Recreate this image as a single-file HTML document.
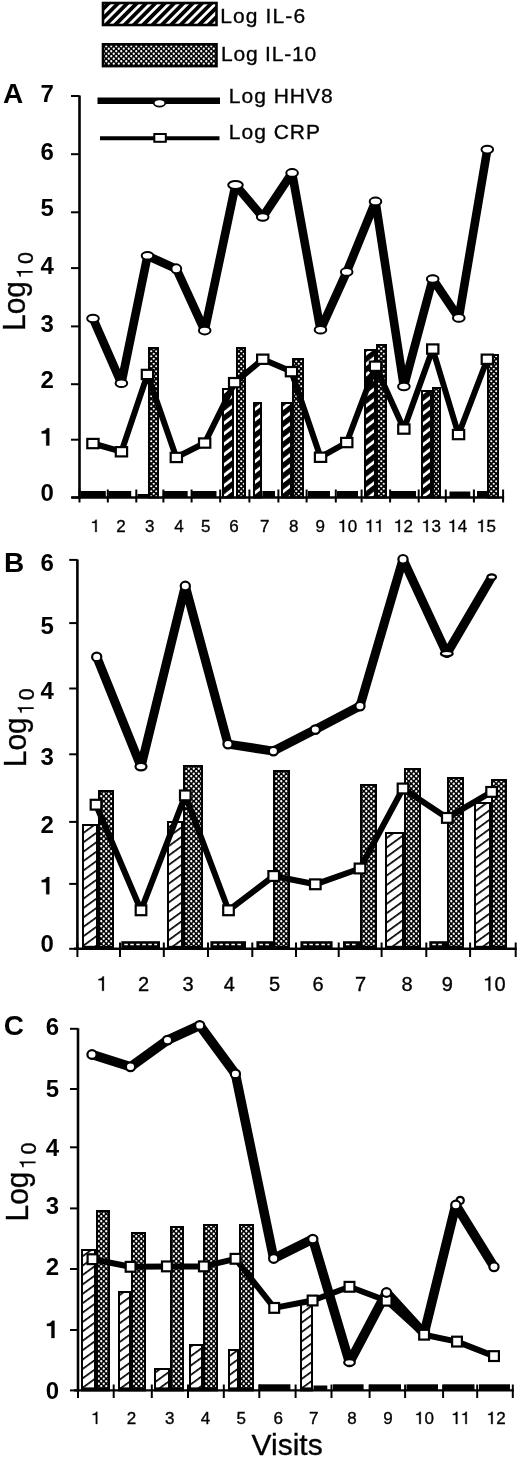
<!DOCTYPE html><html><head><meta charset="utf-8"><style>html,body{margin:0;padding:0;background:#fff;}svg{display:block;} text{stroke:#000;stroke-width:0.35px;} path.o{stroke:#000;stroke-width:0.3px;} text[font-weight="bold"]{stroke-width:0;}</style></head><body>
<svg width="520" height="1458" viewBox="0 0 520 1458">
<defs>
<pattern id="hd" patternUnits="userSpaceOnUse" width="6.6" height="6.6" patternTransform="rotate(-45)"><rect width="6.6" height="6.6" fill="#000"/><rect y="1.9" width="6.6" height="2.8" fill="#fff"/></pattern>
<pattern id="hdb" patternUnits="userSpaceOnUse" width="8.2" height="8.2" patternTransform="rotate(-38)"><rect width="8.2" height="8.2" fill="#000"/><rect y="2.6" width="8.2" height="2.9" fill="#fff"/></pattern>
<pattern id="hl" patternUnits="userSpaceOnUse" width="7.6" height="7.6" patternTransform="rotate(-36)"><rect width="7.6" height="7.6" fill="#fff"/><rect y="0" width="7.6" height="1.7" fill="#000"/></pattern>
<pattern id="st" patternUnits="userSpaceOnUse" width="5" height="5"><rect width="5" height="5" fill="#000"/><circle cx="1.25" cy="1.25" r="1.12" fill="#fff"/><circle cx="3.75" cy="3.75" r="1.12" fill="#fff"/></pattern>
<pattern id="stl" patternUnits="userSpaceOnUse" width="5" height="5"><rect width="5" height="5" fill="#000"/><circle cx="1.25" cy="1.25" r="1.15" fill="#fff"/><circle cx="3.75" cy="3.75" r="1.15" fill="#fff"/></pattern>
</defs>
<rect width="520" height="1458" fill="#fff"/>
<g opacity="0.999">
<rect x="103" y="3" width="113.5" height="22" fill="url(#hd)" stroke="#000" stroke-width="2.6"/>
<rect x="103" y="44.3" width="113.5" height="21.8" fill="url(#stl)" stroke="#000" stroke-width="2.6"/>
<text x="220.3" y="22.7" font-family='"Liberation Sans", sans-serif' font-size="21" letter-spacing="1.1" fill="#000">Log IL-6</text>
<text x="221" y="61.3" font-family='"Liberation Sans", sans-serif' font-size="21" letter-spacing="0.8" fill="#000">Log IL-10</text>
<line x1="97.5" y1="100.8" x2="220" y2="100.8" stroke="#000" stroke-width="6.5"/>
<ellipse cx="159.5" cy="103" rx="5.8" ry="3.6" fill="#fff" stroke="#000" stroke-width="1.8"/>
<line x1="100" y1="138.3" x2="219.5" y2="138.3" stroke="#000" stroke-width="4"/>
<rect x="154.3" y="134" width="11.5" height="7.8" fill="#fff" stroke="#000" stroke-width="2"/>
<text x="228.8" y="103" font-family='"Liberation Sans", sans-serif' font-size="21" letter-spacing="1.0" fill="#000">Log HHV8</text>
<text x="228.8" y="138.9" font-family='"Liberation Sans", sans-serif' font-size="21" letter-spacing="1.0" fill="#000">Log CRP</text>
<rect x="222" y="388" width="12" height="110.5" fill="#000"/>
<rect x="224" y="390" width="8" height="106.5" fill="url(#hdb)"/>
<rect x="253" y="402" width="9" height="96.5" fill="#000"/>
<rect x="255" y="404" width="5" height="92.5" fill="url(#hdb)"/>
<rect x="281" y="402" width="11" height="96.5" fill="#000"/>
<rect x="283" y="404" width="7" height="92.5" fill="url(#hdb)"/>
<rect x="364" y="349" width="12" height="149.5" fill="#000"/>
<rect x="366" y="351" width="8" height="145.5" fill="url(#hdb)"/>
<rect x="421" y="390" width="11" height="108.5" fill="#000"/>
<rect x="423" y="392" width="7" height="104.5" fill="url(#hdb)"/>
<rect x="148" y="347" width="11" height="151.5" fill="#000"/>
<rect x="150" y="349" width="7" height="147.5" fill="url(#st)"/>
<rect x="236" y="347" width="10" height="151.5" fill="#000"/>
<rect x="238" y="349" width="6" height="147.5" fill="url(#st)"/>
<rect x="292" y="358" width="12" height="140.5" fill="#000"/>
<rect x="294" y="360" width="8" height="136.5" fill="url(#st)"/>
<rect x="376" y="344" width="11" height="154.5" fill="#000"/>
<rect x="378" y="346" width="7" height="150.5" fill="url(#st)"/>
<rect x="432" y="387" width="9" height="111.5" fill="#000"/>
<rect x="434" y="389" width="5" height="107.5" fill="url(#st)"/>
<rect x="487" y="354" width="12" height="144.5" fill="#000"/>
<rect x="489" y="356" width="8" height="140.5" fill="url(#st)"/>
<rect x="80.5" y="491" width="25.3" height="6.5" fill="#000"/>
<rect x="108.5" y="491" width="22.7" height="6.5" fill="#000"/>
<rect x="137.5" y="494" width="11" height="3.5" fill="#000"/>
<rect x="162.7" y="491" width="25" height="6.5" fill="#000"/>
<rect x="191.5" y="491" width="25" height="6.5" fill="#000"/>
<rect x="262.3" y="491" width="12.7" height="6.5" fill="#000"/>
<rect x="308" y="491" width="22" height="6.5" fill="#000"/>
<rect x="337" y="491" width="21" height="6.5" fill="#000"/>
<rect x="391" y="491" width="25" height="6.5" fill="#000"/>
<rect x="449.5" y="491.5" width="20.8" height="6" fill="#000"/>
<rect x="477" y="491" width="10" height="6.5" fill="#000"/>
<line x1="79.5" y1="95.5" x2="79.5" y2="498.5" stroke="#000" stroke-width="2.6"/>
<line x1="71.5" y1="497.5" x2="504.1" y2="497.5" stroke="#000" stroke-width="2.4"/>
<line x1="71" y1="497.5" x2="79.5" y2="497.5" stroke="#000" stroke-width="2"/>
<text x="40.5" y="501.3" font-family='"Liberation Sans", sans-serif' font-weight="bold" font-size="24" fill="#000">0</text>
<line x1="71" y1="439.7" x2="79.5" y2="439.7" stroke="#000" stroke-width="2"/>
<path class="o" d="M49.3,445.5 L49.3,428.3 L46.8,428.3 C46.3,430.1 44.5,431.1 41.7,431.2 L41.7,433.4 L46.2,433.4 L46.2,445.5 Z" fill="#000"/>
<line x1="71" y1="384.2" x2="79.5" y2="384.2" stroke="#000" stroke-width="2"/>
<text x="40.5" y="387.8" font-family='"Liberation Sans", sans-serif' font-weight="bold" font-size="24" fill="#000">2</text>
<line x1="71" y1="326.4" x2="79.5" y2="326.4" stroke="#000" stroke-width="2"/>
<text x="40.5" y="332.2" font-family='"Liberation Sans", sans-serif' font-weight="bold" font-size="24" fill="#000">3</text>
<line x1="71" y1="268.1" x2="79.5" y2="268.1" stroke="#000" stroke-width="2"/>
<text x="40.5" y="274" font-family='"Liberation Sans", sans-serif' font-weight="bold" font-size="24" fill="#000">4</text>
<line x1="71" y1="212.3" x2="79.5" y2="212.3" stroke="#000" stroke-width="2"/>
<text x="40.5" y="216.4" font-family='"Liberation Sans", sans-serif' font-weight="bold" font-size="24" fill="#000">5</text>
<line x1="71" y1="154.2" x2="79.5" y2="154.2" stroke="#000" stroke-width="2"/>
<text x="40.5" y="160.2" font-family='"Liberation Sans", sans-serif' font-weight="bold" font-size="24" fill="#000">6</text>
<line x1="71" y1="96" x2="79.5" y2="96" stroke="#000" stroke-width="2"/>
<text x="40.5" y="101.5" font-family='"Liberation Sans", sans-serif' font-weight="bold" font-size="24" fill="#000">7</text>
<line x1="79.5" y1="489.5" x2="79.5" y2="502.5" stroke="#000" stroke-width="2"/>
<line x1="107.8" y1="489.5" x2="107.8" y2="502.5" stroke="#000" stroke-width="2"/>
<line x1="136.3" y1="489.5" x2="136.3" y2="502.5" stroke="#000" stroke-width="2"/>
<line x1="163.4" y1="489.5" x2="163.4" y2="502.5" stroke="#000" stroke-width="2"/>
<line x1="191.6" y1="489.5" x2="191.6" y2="502.5" stroke="#000" stroke-width="2"/>
<line x1="220.2" y1="489.5" x2="220.2" y2="502.5" stroke="#000" stroke-width="2"/>
<line x1="249.4" y1="489.5" x2="249.4" y2="502.5" stroke="#000" stroke-width="2"/>
<line x1="278.4" y1="489.5" x2="278.4" y2="502.5" stroke="#000" stroke-width="2"/>
<line x1="306.6" y1="489.5" x2="306.6" y2="502.5" stroke="#000" stroke-width="2"/>
<line x1="335.8" y1="489.5" x2="335.8" y2="502.5" stroke="#000" stroke-width="2"/>
<line x1="361.6" y1="489.5" x2="361.6" y2="502.5" stroke="#000" stroke-width="2"/>
<line x1="390.1" y1="489.5" x2="390.1" y2="502.5" stroke="#000" stroke-width="2"/>
<line x1="418.7" y1="489.5" x2="418.7" y2="502.5" stroke="#000" stroke-width="2"/>
<line x1="445.8" y1="489.5" x2="445.8" y2="502.5" stroke="#000" stroke-width="2"/>
<line x1="473.9" y1="489.5" x2="473.9" y2="502.5" stroke="#000" stroke-width="2"/>
<line x1="503.1" y1="489.5" x2="503.1" y2="502.5" stroke="#000" stroke-width="2"/>
<path class="o" d="M96.7,531.9 L96.7,519.7 L95.6,519.7 C95.3,520.9 94.3,521.7 92.1,521.8 L92.1,522.9 L95.2,522.9 L95.2,531.9 Z" fill="#000"/>
<text x="116.3" y="531.9" font-family='"Liberation Sans", sans-serif' font-size="17" fill="#000">2</text>
<text x="145" y="531.9" font-family='"Liberation Sans", sans-serif' font-size="17" fill="#000">3</text>
<text x="174.2" y="531.9" font-family='"Liberation Sans", sans-serif' font-size="17" fill="#000">4</text>
<text x="200.9" y="531.9" font-family='"Liberation Sans", sans-serif' font-size="17" fill="#000">5</text>
<text x="229.2" y="531.9" font-family='"Liberation Sans", sans-serif' font-size="17" fill="#000">6</text>
<text x="260.1" y="531.9" font-family='"Liberation Sans", sans-serif' font-size="17" fill="#000">7</text>
<text x="289" y="531.9" font-family='"Liberation Sans", sans-serif' font-size="17" fill="#000">8</text>
<text x="315.5" y="531.9" font-family='"Liberation Sans", sans-serif' font-size="17" fill="#000">9</text>
<path class="o" d="M344.1,531.9 L344.1,519.7 L343,519.7 C342.6,520.9 341.6,521.7 339.5,521.8 L339.5,522.9 L342.5,522.9 L342.5,531.9 Z" fill="#000"/>
<text x="347.7" y="531.9" font-family='"Liberation Sans", sans-serif' font-size="17" fill="#000">0</text>
<path class="o" d="M371.2,531.9 L371.2,519.7 L370.1,519.7 C369.7,520.9 368.7,521.7 366.6,521.8 L366.6,522.9 L369.6,522.9 L369.6,531.9 Z" fill="#000"/>
<path class="o" d="M380.6,531.9 L380.6,519.7 L379.5,519.7 C379.2,520.9 378.2,521.7 376.1,521.8 L376.1,522.9 L379.1,522.9 L379.1,531.9 Z" fill="#000"/>
<path class="o" d="M399.9,531.9 L399.9,519.7 L398.8,519.7 C398.4,520.9 397.4,521.7 395.3,521.8 L395.3,522.9 L398.3,522.9 L398.3,531.9 Z" fill="#000"/>
<text x="403.5" y="531.9" font-family='"Liberation Sans", sans-serif' font-size="17" fill="#000">2</text>
<path class="o" d="M427.8,531.9 L427.8,519.7 L426.7,519.7 C426.3,520.9 425.3,521.7 423.2,521.8 L423.2,522.9 L426.2,522.9 L426.2,531.9 Z" fill="#000"/>
<text x="431.4" y="531.9" font-family='"Liberation Sans", sans-serif' font-size="17" fill="#000">3</text>
<path class="o" d="M454.1,531.9 L454.1,519.7 L453,519.7 C452.6,520.9 451.6,521.7 449.5,521.8 L449.5,522.9 L452.5,522.9 L452.5,531.9 Z" fill="#000"/>
<text x="457.7" y="531.9" font-family='"Liberation Sans", sans-serif' font-size="17" fill="#000">4</text>
<path class="o" d="M482.8,531.9 L482.8,519.7 L481.7,519.7 C481.3,520.9 480.3,521.7 478.2,521.8 L478.2,522.9 L481.2,522.9 L481.2,531.9 Z" fill="#000"/>
<text x="486.4" y="531.9" font-family='"Liberation Sans", sans-serif' font-size="17" fill="#000">5</text>
<text x="2.9" y="102.8" font-family='"Liberation Sans", sans-serif' font-weight="bold" font-size="28" fill="#000">A</text>
<polyline points="93,443.5 121.4,451.7 147.5,374.4 176.3,457.4 204.7,443 234.7,382.6 262.7,359.2 291.4,371.6 320.5,457.2 346.7,442.5 375.5,366.2 403.9,429 432.7,349 458.5,434.5 487.3,359.2" fill="none" stroke="#000" stroke-width="6" stroke-linejoin="round"/>
<polyline points="93,318.5 121.4,383.2 147.5,255.8 176.3,268.8 204.7,330.6 235.5,185 262.7,217 292.1,172.9 320.5,329.7 346.7,271.9 375.5,201.4 403.9,386.5 432.7,279 458.8,317.9 487.3,149.6" fill="none" stroke="#000" stroke-width="8.6" stroke-linejoin="round"/>
<rect x="87.3" y="438.9" width="11.3" height="9.3" fill="#fff" stroke="#000" stroke-width="2.2"/>
<rect x="115.8" y="447.1" width="11.3" height="9.3" fill="#fff" stroke="#000" stroke-width="2.2"/>
<rect x="141.8" y="369.8" width="11.3" height="9.3" fill="#fff" stroke="#000" stroke-width="2.2"/>
<rect x="170.7" y="452.8" width="11.3" height="9.3" fill="#fff" stroke="#000" stroke-width="2.2"/>
<rect x="199" y="438.4" width="11.3" height="9.3" fill="#fff" stroke="#000" stroke-width="2.2"/>
<rect x="229" y="378" width="11.3" height="9.3" fill="#fff" stroke="#000" stroke-width="2.2"/>
<rect x="257.1" y="354.6" width="11.3" height="9.3" fill="#fff" stroke="#000" stroke-width="2.2"/>
<rect x="285.8" y="367" width="11.3" height="9.3" fill="#fff" stroke="#000" stroke-width="2.2"/>
<rect x="314.9" y="452.6" width="11.3" height="9.3" fill="#fff" stroke="#000" stroke-width="2.2"/>
<rect x="341.1" y="437.9" width="11.3" height="9.3" fill="#fff" stroke="#000" stroke-width="2.2"/>
<rect x="369.9" y="361.6" width="11.3" height="9.3" fill="#fff" stroke="#000" stroke-width="2.2"/>
<rect x="398.2" y="424.4" width="11.3" height="9.3" fill="#fff" stroke="#000" stroke-width="2.2"/>
<rect x="427.1" y="344.4" width="11.3" height="9.3" fill="#fff" stroke="#000" stroke-width="2.2"/>
<rect x="452.9" y="429.9" width="11.3" height="9.3" fill="#fff" stroke="#000" stroke-width="2.2"/>
<rect x="481.7" y="354.6" width="11.3" height="9.3" fill="#fff" stroke="#000" stroke-width="2.2"/>
<ellipse cx="93" cy="318.5" rx="5.8" ry="3.8" fill="#fff" stroke="#000" stroke-width="2"/>
<ellipse cx="121.4" cy="383.2" rx="5.8" ry="3.8" fill="#fff" stroke="#000" stroke-width="2"/>
<ellipse cx="147.5" cy="255.8" rx="5.8" ry="3.8" fill="#fff" stroke="#000" stroke-width="2"/>
<ellipse cx="176.3" cy="268.8" rx="4.9" ry="4.5" fill="#fff" stroke="#000" stroke-width="2"/>
<ellipse cx="204.7" cy="330.6" rx="5.8" ry="3.8" fill="#fff" stroke="#000" stroke-width="2"/>
<ellipse cx="235.5" cy="185" rx="7.3" ry="4.1" fill="#fff" stroke="#000" stroke-width="2"/>
<ellipse cx="262.7" cy="217" rx="5.8" ry="3.8" fill="#fff" stroke="#000" stroke-width="2"/>
<ellipse cx="292.1" cy="172.9" rx="5.8" ry="3.8" fill="#fff" stroke="#000" stroke-width="2"/>
<ellipse cx="320.5" cy="329.7" rx="5.8" ry="3.8" fill="#fff" stroke="#000" stroke-width="2"/>
<ellipse cx="346.7" cy="271.9" rx="5.8" ry="3.8" fill="#fff" stroke="#000" stroke-width="2"/>
<ellipse cx="375.5" cy="201.4" rx="5.8" ry="3.8" fill="#fff" stroke="#000" stroke-width="2"/>
<ellipse cx="403.9" cy="386.5" rx="5.8" ry="3.8" fill="#fff" stroke="#000" stroke-width="2"/>
<ellipse cx="432.7" cy="279" rx="5.8" ry="3.8" fill="#fff" stroke="#000" stroke-width="2"/>
<ellipse cx="458.8" cy="317.9" rx="5.8" ry="3.8" fill="#fff" stroke="#000" stroke-width="2"/>
<ellipse cx="487.3" cy="149.6" rx="5.8" ry="3.8" fill="#fff" stroke="#000" stroke-width="2"/>
<rect x="82" y="824" width="16" height="125.8" fill="#000"/>
<rect x="84" y="826" width="12" height="119.8" fill="url(#hl)"/>
<rect x="167" y="821" width="16" height="128.8" fill="#000"/>
<rect x="169" y="823" width="12" height="122.8" fill="url(#hl)"/>
<rect x="385" y="832" width="19" height="117.8" fill="#000"/>
<rect x="387" y="834" width="15" height="111.8" fill="url(#hl)"/>
<rect x="474" y="802" width="17" height="147.8" fill="#000"/>
<rect x="476" y="804" width="13" height="141.8" fill="url(#hl)"/>
<rect x="98" y="790" width="16" height="159.8" fill="#000"/>
<rect x="100" y="792" width="12" height="153.8" fill="url(#stl)"/>
<rect x="183" y="765" width="20" height="184.8" fill="#000"/>
<rect x="185" y="767" width="16" height="178.8" fill="url(#stl)"/>
<rect x="273" y="770" width="17" height="179.8" fill="#000"/>
<rect x="275" y="772" width="13" height="173.8" fill="url(#stl)"/>
<rect x="360" y="784" width="17" height="165.8" fill="#000"/>
<rect x="362" y="786" width="13" height="159.8" fill="url(#stl)"/>
<rect x="404" y="768" width="17" height="181.8" fill="#000"/>
<rect x="406" y="770" width="13" height="175.8" fill="url(#stl)"/>
<rect x="447" y="777" width="17" height="172.8" fill="#000"/>
<rect x="449" y="779" width="13" height="166.8" fill="url(#stl)"/>
<rect x="491" y="779" width="16" height="170.8" fill="#000"/>
<rect x="493" y="781" width="12" height="164.8" fill="url(#stl)"/>
<rect x="121.3" y="941.2" width="38.7" height="7.6" fill="#000"/>
<line x1="124.3" y1="944.5" x2="157" y2="944.5" stroke="#fff" stroke-width="1.4" stroke-dasharray="3.5 2.5"/>
<rect x="210.4" y="941.2" width="35.6" height="7.6" fill="#000"/>
<line x1="213.4" y1="944.5" x2="243" y2="944.5" stroke="#fff" stroke-width="1.4" stroke-dasharray="3.5 2.5"/>
<rect x="256.4" y="941.2" width="17" height="7.6" fill="#000"/>
<line x1="259.4" y1="944.5" x2="270.4" y2="944.5" stroke="#fff" stroke-width="1.4" stroke-dasharray="3.5 2.5"/>
<rect x="300.4" y="941.2" width="32.2" height="7.6" fill="#000"/>
<line x1="303.4" y1="944.5" x2="329.6" y2="944.5" stroke="#fff" stroke-width="1.4" stroke-dasharray="3.5 2.5"/>
<rect x="343" y="941.2" width="17" height="7.6" fill="#000"/>
<line x1="346" y1="944.5" x2="357" y2="944.5" stroke="#fff" stroke-width="1.4" stroke-dasharray="3.5 2.5"/>
<rect x="429.3" y="941.2" width="18" height="7.6" fill="#000"/>
<line x1="432.3" y1="944.5" x2="444.3" y2="944.5" stroke="#fff" stroke-width="1.4" stroke-dasharray="3.5 2.5"/>
<line x1="77.4" y1="559.4" x2="77.4" y2="949.8" stroke="#000" stroke-width="2.6"/>
<line x1="74" y1="948.8" x2="516.7" y2="948.8" stroke="#000" stroke-width="2.4"/>
<line x1="69.2" y1="948.8" x2="77.4" y2="948.8" stroke="#000" stroke-width="2"/>
<text x="40.5" y="952.4" font-family='"Liberation Sans", sans-serif' font-weight="bold" font-size="24" fill="#000">0</text>
<line x1="69.2" y1="883.9" x2="77.4" y2="883.9" stroke="#000" stroke-width="2"/>
<path class="o" d="M49.3,894.3 L49.3,877.1 L46.8,877.1 C46.3,878.9 44.5,879.9 41.7,880 L41.7,882.2 L46.2,882.2 L46.2,894.3 Z" fill="#000"/>
<line x1="69.2" y1="821.9" x2="77.4" y2="821.9" stroke="#000" stroke-width="2"/>
<text x="40.5" y="832.9" font-family='"Liberation Sans", sans-serif' font-weight="bold" font-size="24" fill="#000">2</text>
<line x1="69.2" y1="754.3" x2="77.4" y2="754.3" stroke="#000" stroke-width="2"/>
<text x="40.5" y="764.6" font-family='"Liberation Sans", sans-serif' font-weight="bold" font-size="24" fill="#000">3</text>
<line x1="69.2" y1="688.5" x2="77.4" y2="688.5" stroke="#000" stroke-width="2"/>
<text x="40.5" y="699.2" font-family='"Liberation Sans", sans-serif' font-weight="bold" font-size="24" fill="#000">4</text>
<line x1="69.2" y1="623.1" x2="77.4" y2="623.1" stroke="#000" stroke-width="2"/>
<text x="40.5" y="633.7" font-family='"Liberation Sans", sans-serif' font-weight="bold" font-size="24" fill="#000">5</text>
<line x1="69.2" y1="559.9" x2="77.4" y2="559.9" stroke="#000" stroke-width="2"/>
<text x="40.5" y="570.8" font-family='"Liberation Sans", sans-serif' font-weight="bold" font-size="24" fill="#000">6</text>
<line x1="77.4" y1="942.5" x2="77.4" y2="957" stroke="#000" stroke-width="2"/>
<line x1="120" y1="942.5" x2="120" y2="957" stroke="#000" stroke-width="2"/>
<line x1="163.8" y1="942.5" x2="163.8" y2="957" stroke="#000" stroke-width="2"/>
<line x1="208" y1="942.5" x2="208" y2="957" stroke="#000" stroke-width="2"/>
<line x1="252.3" y1="942.5" x2="252.3" y2="957" stroke="#000" stroke-width="2"/>
<line x1="296" y1="942.5" x2="296" y2="957" stroke="#000" stroke-width="2"/>
<line x1="338.7" y1="942.5" x2="338.7" y2="957" stroke="#000" stroke-width="2"/>
<line x1="381.6" y1="942.5" x2="381.6" y2="957" stroke="#000" stroke-width="2"/>
<line x1="426.3" y1="942.5" x2="426.3" y2="957" stroke="#000" stroke-width="2"/>
<line x1="470.1" y1="942.5" x2="470.1" y2="957" stroke="#000" stroke-width="2"/>
<line x1="515.7" y1="942.5" x2="515.7" y2="957" stroke="#000" stroke-width="2"/>
<path class="o" d="M103.9,990.8 L103.9,976.5 L102.6,976.5 C102.2,977.9 101,978.8 98.5,979 L98.5,980.3 L102.1,980.3 L102.1,990.8 Z" fill="#000"/>
<text x="138.1" y="990.8" font-family='"Liberation Sans", sans-serif' font-size="20" fill="#000">2</text>
<text x="182.5" y="990.8" font-family='"Liberation Sans", sans-serif' font-size="20" fill="#000">3</text>
<text x="223.7" y="990.8" font-family='"Liberation Sans", sans-serif' font-size="20" fill="#000">4</text>
<text x="269" y="990.8" font-family='"Liberation Sans", sans-serif' font-size="20" fill="#000">5</text>
<text x="312.6" y="990.8" font-family='"Liberation Sans", sans-serif' font-size="20" fill="#000">6</text>
<text x="355" y="990.8" font-family='"Liberation Sans", sans-serif' font-size="20" fill="#000">7</text>
<text x="401.4" y="990.8" font-family='"Liberation Sans", sans-serif' font-size="20" fill="#000">8</text>
<text x="441.8" y="990.8" font-family='"Liberation Sans", sans-serif' font-size="20" fill="#000">9</text>
<path class="o" d="M490.3,990.8 L490.3,976.5 L489,976.5 C488.6,977.9 487.5,978.8 485,979 L485,980.3 L488.5,980.3 L488.5,990.8 Z" fill="#000"/>
<text x="494.6" y="990.8" font-family='"Liberation Sans", sans-serif' font-size="20" fill="#000">0</text>
<text x="4" y="572" font-family='"Liberation Sans", sans-serif' font-weight="bold" font-size="28" fill="#000">B</text>
<polyline points="96,804.7 141,910.3 185.3,795.4 228.5,910.3 273.7,876 315.3,884.3 360,868.5 403,788.5 447.3,817.9 491.6,791.9" fill="none" stroke="#000" stroke-width="6" stroke-linejoin="round"/>
<polyline points="96.7,656.9 141,766.6 185.3,586 228,744.1 273.4,751.1 315.3,729.6 360,706.1 403,559.3 446.8,653.6 491.7,577" fill="none" stroke="#000" stroke-width="9.0" stroke-linejoin="round"/>
<rect x="90.7" y="799.8" width="10.6" height="9.8" fill="#fff" stroke="#000" stroke-width="2.2"/>
<rect x="135.7" y="905.4" width="10.6" height="9.8" fill="#fff" stroke="#000" stroke-width="2.2"/>
<rect x="180" y="790.5" width="10.6" height="9.8" fill="#fff" stroke="#000" stroke-width="2.2"/>
<rect x="223.2" y="905.4" width="10.6" height="9.8" fill="#fff" stroke="#000" stroke-width="2.2"/>
<rect x="268.4" y="871.1" width="10.6" height="9.8" fill="#fff" stroke="#000" stroke-width="2.2"/>
<rect x="310" y="879.4" width="10.6" height="9.8" fill="#fff" stroke="#000" stroke-width="2.2"/>
<rect x="354.7" y="863.6" width="10.6" height="9.8" fill="#fff" stroke="#000" stroke-width="2.2"/>
<rect x="397.7" y="783.6" width="10.6" height="9.8" fill="#fff" stroke="#000" stroke-width="2.2"/>
<rect x="442" y="813" width="10.6" height="9.8" fill="#fff" stroke="#000" stroke-width="2.2"/>
<rect x="486.3" y="787" width="10.6" height="9.8" fill="#fff" stroke="#000" stroke-width="2.2"/>
<ellipse cx="96.7" cy="656.9" rx="4.6" ry="4.3" fill="#fff" stroke="#000" stroke-width="2.2"/>
<ellipse cx="141" cy="766.6" rx="5.5" ry="3.7" fill="#fff" stroke="#000" stroke-width="2.2"/>
<ellipse cx="185.3" cy="586" rx="4.6" ry="4.3" fill="#fff" stroke="#000" stroke-width="2.2"/>
<ellipse cx="228" cy="744.1" rx="4.6" ry="4.3" fill="#fff" stroke="#000" stroke-width="2.2"/>
<ellipse cx="273.4" cy="751.1" rx="4.6" ry="4.3" fill="#fff" stroke="#000" stroke-width="2.2"/>
<ellipse cx="315.3" cy="729.6" rx="4.6" ry="4.3" fill="#fff" stroke="#000" stroke-width="2.2"/>
<ellipse cx="360" cy="706.1" rx="4.6" ry="4.3" fill="#fff" stroke="#000" stroke-width="2.2"/>
<ellipse cx="403" cy="559.3" rx="4.6" ry="4.3" fill="#fff" stroke="#000" stroke-width="2.2"/>
<ellipse cx="446.8" cy="653.6" rx="5.9" ry="2.8" fill="#fff" stroke="#000" stroke-width="2.2"/>
<ellipse cx="491.7" cy="577" rx="4.3" ry="2.7" fill="#fff" stroke="#000" stroke-width="2.2"/>
<rect x="81" y="1249" width="15" height="142.4" fill="#000"/>
<rect x="83" y="1251" width="11" height="136.4" fill="url(#hl)"/>
<rect x="118" y="1291" width="13" height="100.4" fill="#000"/>
<rect x="120" y="1293" width="9" height="94.4" fill="url(#hl)"/>
<rect x="154" y="1368" width="16" height="23.4" fill="#000"/>
<rect x="156" y="1370" width="12" height="17.4" fill="url(#hl)"/>
<rect x="189" y="1344" width="14" height="47.4" fill="#000"/>
<rect x="191" y="1346" width="10" height="41.4" fill="url(#hl)"/>
<rect x="228" y="1349" width="11" height="42.4" fill="#000"/>
<rect x="230" y="1351" width="7" height="36.4" fill="url(#hl)"/>
<rect x="300" y="1300" width="13" height="91.4" fill="#000"/>
<rect x="302" y="1302" width="9" height="85.4" fill="url(#hl)"/>
<rect x="96" y="1210" width="14" height="181.4" fill="#000"/>
<rect x="98" y="1212" width="10" height="175.4" fill="url(#stl)"/>
<rect x="131" y="1232" width="15" height="159.4" fill="#000"/>
<rect x="133" y="1234" width="11" height="153.4" fill="url(#stl)"/>
<rect x="170" y="1226" width="14" height="165.4" fill="#000"/>
<rect x="172" y="1228" width="10" height="159.4" fill="url(#stl)"/>
<rect x="203" y="1224" width="15" height="167.4" fill="#000"/>
<rect x="205" y="1226" width="11" height="161.4" fill="url(#stl)"/>
<rect x="239" y="1224" width="15" height="167.4" fill="#000"/>
<rect x="241" y="1226" width="11" height="161.4" fill="url(#stl)"/>
<rect x="258.8" y="1384.3" width="31.6" height="6.1" fill="#000"/>
<rect x="313.5" y="1385.5" width="13.8" height="4.9" fill="#000"/>
<rect x="333" y="1384.3" width="30.6" height="6.1" fill="#000"/>
<rect x="369.5" y="1384.3" width="31.5" height="6.1" fill="#000"/>
<rect x="406.5" y="1384.3" width="31.5" height="6.1" fill="#000"/>
<rect x="443.5" y="1384.3" width="31" height="6.1" fill="#000"/>
<rect x="479" y="1384.3" width="31" height="6.1" fill="#000"/>
<line x1="78" y1="1028.3" x2="78" y2="1391.4" stroke="#000" stroke-width="2.6"/>
<line x1="74" y1="1390.4" x2="513.8" y2="1390.4" stroke="#000" stroke-width="2.4"/>
<line x1="70" y1="1390.4" x2="78" y2="1390.4" stroke="#000" stroke-width="2"/>
<text x="45.7" y="1399.2" font-family='"Liberation Sans", sans-serif' font-weight="bold" font-size="24" fill="#000">0</text>
<line x1="70" y1="1330" x2="78" y2="1330" stroke="#000" stroke-width="2"/>
<path class="o" d="M54.5,1338 L54.5,1320.8 L52,1320.8 C51.5,1322.6 49.7,1323.6 46.9,1323.7 L46.9,1325.9 L51.4,1325.9 L51.4,1338 Z" fill="#000"/>
<line x1="70" y1="1269" x2="78" y2="1269" stroke="#000" stroke-width="2"/>
<text x="45.7" y="1275.2" font-family='"Liberation Sans", sans-serif' font-weight="bold" font-size="24" fill="#000">2</text>
<line x1="70" y1="1208.4" x2="78" y2="1208.4" stroke="#000" stroke-width="2"/>
<text x="45.7" y="1214.1" font-family='"Liberation Sans", sans-serif' font-weight="bold" font-size="24" fill="#000">3</text>
<line x1="70" y1="1147.3" x2="78" y2="1147.3" stroke="#000" stroke-width="2"/>
<text x="45.7" y="1155.5" font-family='"Liberation Sans", sans-serif' font-weight="bold" font-size="24" fill="#000">4</text>
<line x1="70" y1="1089" x2="78" y2="1089" stroke="#000" stroke-width="2"/>
<text x="45.7" y="1096.6" font-family='"Liberation Sans", sans-serif' font-weight="bold" font-size="24" fill="#000">5</text>
<line x1="70" y1="1028.8" x2="78" y2="1028.8" stroke="#000" stroke-width="2"/>
<text x="45.7" y="1034.5" font-family='"Liberation Sans", sans-serif' font-weight="bold" font-size="24" fill="#000">6</text>
<line x1="78" y1="1384.5" x2="78" y2="1398" stroke="#000" stroke-width="2"/>
<line x1="113.7" y1="1384.5" x2="113.7" y2="1398" stroke="#000" stroke-width="2"/>
<line x1="151.8" y1="1384.5" x2="151.8" y2="1398" stroke="#000" stroke-width="2"/>
<line x1="188" y1="1384.5" x2="188" y2="1398" stroke="#000" stroke-width="2"/>
<line x1="223.8" y1="1384.5" x2="223.8" y2="1398" stroke="#000" stroke-width="2"/>
<line x1="259.3" y1="1384.5" x2="259.3" y2="1398" stroke="#000" stroke-width="2"/>
<line x1="295.6" y1="1384.5" x2="295.6" y2="1398" stroke="#000" stroke-width="2"/>
<line x1="331.5" y1="1384.5" x2="331.5" y2="1398" stroke="#000" stroke-width="2"/>
<line x1="369.6" y1="1384.5" x2="369.6" y2="1398" stroke="#000" stroke-width="2"/>
<line x1="405.1" y1="1384.5" x2="405.1" y2="1398" stroke="#000" stroke-width="2"/>
<line x1="443.1" y1="1384.5" x2="443.1" y2="1398" stroke="#000" stroke-width="2"/>
<line x1="477.2" y1="1384.5" x2="477.2" y2="1398" stroke="#000" stroke-width="2"/>
<line x1="512.8" y1="1384.5" x2="512.8" y2="1398" stroke="#000" stroke-width="2"/>
<path class="o" d="M97.3,1424 L97.3,1411.8 L96.2,1411.8 C95.9,1413 94.9,1413.8 92.7,1413.9 L92.7,1415 L95.8,1415 L95.8,1424 Z" fill="#000"/>
<text x="126.7" y="1424" font-family='"Liberation Sans", sans-serif' font-size="17" fill="#000">2</text>
<text x="165.1" y="1424" font-family='"Liberation Sans", sans-serif' font-size="17" fill="#000">3</text>
<text x="200.7" y="1424" font-family='"Liberation Sans", sans-serif' font-size="17" fill="#000">4</text>
<text x="236.6" y="1424" font-family='"Liberation Sans", sans-serif' font-size="17" fill="#000">5</text>
<text x="273.4" y="1424" font-family='"Liberation Sans", sans-serif' font-size="17" fill="#000">6</text>
<text x="308.9" y="1424" font-family='"Liberation Sans", sans-serif' font-size="17" fill="#000">7</text>
<text x="347.3" y="1424" font-family='"Liberation Sans", sans-serif' font-size="17" fill="#000">8</text>
<text x="383.3" y="1424" font-family='"Liberation Sans", sans-serif' font-size="17" fill="#000">9</text>
<path class="o" d="M420.8,1424 L420.8,1411.8 L419.7,1411.8 C419.3,1413 418.3,1413.8 416.2,1413.9 L416.2,1415 L419.2,1415 L419.2,1424 Z" fill="#000"/>
<text x="424.4" y="1424" font-family='"Liberation Sans", sans-serif' font-size="17" fill="#000">0</text>
<path class="o" d="M457.4,1424 L457.4,1411.8 L456.3,1411.8 C455.9,1413 454.9,1413.8 452.8,1413.9 L452.8,1415 L455.8,1415 L455.8,1424 Z" fill="#000"/>
<path class="o" d="M466.8,1424 L466.8,1411.8 L465.7,1411.8 C465.4,1413 464.4,1413.8 462.3,1413.9 L462.3,1415 L465.3,1415 L465.3,1424 Z" fill="#000"/>
<path class="o" d="M492.7,1424 L492.7,1411.8 L491.6,1411.8 C491.2,1413 490.2,1413.8 488.1,1413.9 L488.1,1415 L491.1,1415 L491.1,1424 Z" fill="#000"/>
<text x="496.3" y="1424" font-family='"Liberation Sans", sans-serif' font-size="17" fill="#000">2</text>
<text x="3.8" y="1034.8" font-family='"Liberation Sans", sans-serif' font-weight="bold" font-size="28" fill="#000">C</text>
<polyline points="92.5,1259.2 130.6,1266.8 166.9,1266.4 203.9,1266.4 235.5,1258.8 274.2,1307.9 312.6,1300.5 349.5,1286.8 386.6,1300.7 424.1,1334.7 457,1341.6 494,1356.1" fill="none" stroke="#000" stroke-width="6" stroke-linejoin="round"/>
<polyline points="92,1054.5 130.5,1066.8 167.5,1040.1 199.7,1025.4 235.4,1073.9 273.7,1258.5 312.8,1239.1 349.5,1362.5 386.5,1292.5 424.1,1333.6 455.8,1205 494,1266.8" fill="none" stroke="#000" stroke-width="9.5" stroke-linejoin="round"/>
<rect x="87.6" y="1254.3" width="9.8" height="9.8" fill="#fff" stroke="#000" stroke-width="2.2"/>
<rect x="125.7" y="1261.9" width="9.8" height="9.8" fill="#fff" stroke="#000" stroke-width="2.2"/>
<rect x="162" y="1261.5" width="9.8" height="9.8" fill="#fff" stroke="#000" stroke-width="2.2"/>
<rect x="199" y="1261.5" width="9.8" height="9.8" fill="#fff" stroke="#000" stroke-width="2.2"/>
<rect x="230.6" y="1253.9" width="9.8" height="9.8" fill="#fff" stroke="#000" stroke-width="2.2"/>
<rect x="269.3" y="1303" width="9.8" height="9.8" fill="#fff" stroke="#000" stroke-width="2.2"/>
<rect x="307.7" y="1295.6" width="9.8" height="9.8" fill="#fff" stroke="#000" stroke-width="2.2"/>
<rect x="344.6" y="1281.9" width="9.8" height="9.8" fill="#fff" stroke="#000" stroke-width="2.2"/>
<rect x="381.7" y="1295.8" width="9.8" height="9.8" fill="#fff" stroke="#000" stroke-width="2.2"/>
<rect x="419.2" y="1329.8" width="9.8" height="9.8" fill="#fff" stroke="#000" stroke-width="2.2"/>
<rect x="452.1" y="1336.7" width="9.8" height="9.8" fill="#fff" stroke="#000" stroke-width="2.2"/>
<rect x="489.1" y="1351.2" width="9.8" height="9.8" fill="#fff" stroke="#000" stroke-width="2.2"/>
<ellipse cx="92" cy="1054.5" rx="4.6" ry="4.3" fill="#fff" stroke="#000" stroke-width="2.2"/>
<ellipse cx="130.5" cy="1066.8" rx="4.6" ry="4.3" fill="#fff" stroke="#000" stroke-width="2.2"/>
<ellipse cx="167.5" cy="1040.1" rx="4.6" ry="4.3" fill="#fff" stroke="#000" stroke-width="2.2"/>
<ellipse cx="199.7" cy="1025.4" rx="4.6" ry="4.3" fill="#fff" stroke="#000" stroke-width="2.2"/>
<ellipse cx="235.4" cy="1073.9" rx="4.6" ry="4.3" fill="#fff" stroke="#000" stroke-width="2.2"/>
<ellipse cx="273.7" cy="1258.5" rx="4.6" ry="4.3" fill="#fff" stroke="#000" stroke-width="2.2"/>
<ellipse cx="312.8" cy="1239.1" rx="4.6" ry="4.3" fill="#fff" stroke="#000" stroke-width="2.2"/>
<ellipse cx="349.5" cy="1362.5" rx="5.3" ry="3.4" fill="#fff" stroke="#000" stroke-width="2.2"/>
<ellipse cx="386.5" cy="1292.5" rx="4.6" ry="4.3" fill="#fff" stroke="#000" stroke-width="2.2"/>
<ellipse cx="460.2" cy="1200.4" rx="3.6" ry="3.6" fill="#fff" stroke="#000" stroke-width="2.2"/>
<ellipse cx="455.8" cy="1205" rx="4.6" ry="4.3" fill="#fff" stroke="#000" stroke-width="2.2"/>
<ellipse cx="494" cy="1266.8" rx="4.6" ry="4.3" fill="#fff" stroke="#000" stroke-width="2.2"/>
<g transform="translate(25,331) rotate(-90) scale(0.95,1)"><text x="0" y="0" font-family='"Liberation Sans", sans-serif' font-size="31.5" fill="#000">Log</text><path d="M63.2,7.7 L63.2,-8.4 L61.8,-8.4 C61.3,-6.8 60,-5.8 57.2,-5.6 L57.2,-4.2 L61.2,-4.2 L61.2,7.7 Z" fill="#000"/><text x="70.5" y="7.7" font-family='"Liberation Sans", sans-serif' font-size="22.5" fill="#000">0</text></g>
<g transform="translate(26,767.2) rotate(-90) scale(0.95,1)"><text x="0" y="0" font-family='"Liberation Sans", sans-serif' font-size="31.5" fill="#000">Log</text><path d="M63.2,7.7 L63.2,-8.4 L61.8,-8.4 C61.3,-6.8 60,-5.8 57.2,-5.6 L57.2,-4.2 L61.2,-4.2 L61.2,7.7 Z" fill="#000"/><text x="70.5" y="7.7" font-family='"Liberation Sans", sans-serif' font-size="22.5" fill="#000">0</text></g>
<g transform="translate(27.9,1221.5) rotate(-90) scale(0.95,1)"><text x="0" y="0" font-family='"Liberation Sans", sans-serif' font-size="31.5" fill="#000">Log</text><path d="M63.2,7.7 L63.2,-8.4 L61.8,-8.4 C61.3,-6.8 60,-5.8 57.2,-5.6 L57.2,-4.2 L61.2,-4.2 L61.2,7.7 Z" fill="#000"/><text x="70.5" y="7.7" font-family='"Liberation Sans", sans-serif' font-size="22.5" fill="#000">0</text></g>
<text x="251.5" y="1455" font-family='"Liberation Sans", sans-serif' font-size="30" fill="#000">Visits</text>
</g></svg></body></html>
